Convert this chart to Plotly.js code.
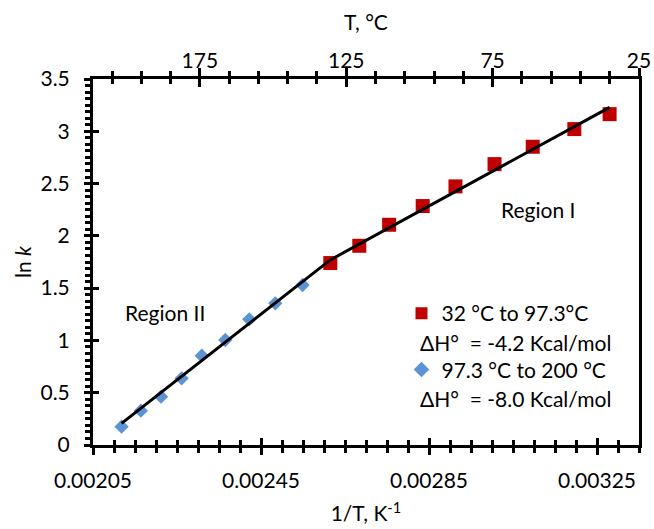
<!DOCTYPE html>
<html>
<head>
<meta charset="utf-8">
<script src="https://cdn.plot.ly/plotly-3.0.1.min.js"></script>
<style>html,body{margin:0;padding:0;background:#fff;}#chart{width:654px;height:529px;}</style>
</head>
<body>
<div id="chart"></div>
<script>
// Region I (32 °C to 97.3 °C) – red squares
const regionI_invT = [0.002615, 0.002684, 0.002755, 0.002835, 0.002913, 0.003006, 0.003097, 0.003196, 0.003280];
const regionI_lnk  = [1.740, 1.905, 2.106, 2.285, 2.473, 2.686, 2.852, 3.021, 3.164];
// Region II (97.3 °C to 200 °C) – blue diamonds
const regionII_invT = [0.002118, 0.002164, 0.002212, 0.002261, 0.002309, 0.002365, 0.002422, 0.002484, 0.002549];
const regionII_lnk  = [0.175, 0.328, 0.462, 0.638, 0.854, 1.004, 1.202, 1.355, 1.530];
// fitted line (two linear segments)
const fit_invT = [0.002118, 0.002615, 0.003280];
const fit_lnk  = [0.207, 1.770, 3.228];

const seriesNames = ['32 °C to 97.3°C', '97.3 °C to 200 °C'];
const dHLabels = ['ΔH°  = -4.2 Kcal/mol', 'ΔH°  = -8.0 Kcal/mol'];
const regionLabels = ['Region I', 'Region II'];

const FONT = 'Lato, "Open Sans", "DejaVu Sans", sans-serif';
const BLACK = '#000000';

const helper = (xa, ya) => ({x: [], y: [], xaxis: xa, yaxis: ya, type: 'scatter', mode: 'markers',
                             showlegend: false, hoverinfo: 'skip'});

const traces = [
  {x: regionI_invT, y: regionI_lnk, type: 'scatter', mode: 'markers', name: seriesNames[0],
   legendgroup: 'a', marker: {symbol: 'square', size: 14, color: '#C00000', line: {width: 0}}},
  {x: regionII_invT, y: regionII_lnk, type: 'scatter', mode: 'markers', name: seriesNames[1],
   legendgroup: 'b', marker: {symbol: 'diamond', size: 11, color: '#5B93D3', line: {width: 0}}},
  {x: fit_invT, y: fit_lnk, type: 'scatter', mode: 'lines',
   line: {color: BLACK, width: 3}, showlegend: false, hoverinfo: 'skip'},
  // empty helper traces so the secondary (tick-only) axes are drawn
  helper('x2', 'y'), helper('x3', 'y'), helper('x4', 'y'), helper('x5', 'y'), helper('x', 'y2')
];

const tickFont = {family: FONT, size: 21, color: BLACK};
const titleFont = {family: FONT, size: 21, color: BLACK};
const xr = [0.00205, 0.00335];
const tr = [211.5, 25];
const yr = [0, 3.5];
const plain = {showgrid: false, zeroline: false, showline: false, showticklabels: false};

const layout = {
  width: 654, height: 529,
  margin: {l: 93, r: 15, t: 79, b: 84},
  paper_bgcolor: '#fff', plot_bgcolor: '#fff',
  font: {family: FONT, size: 18, color: BLACK},
  showlegend: true,
  legend: {x: 0.565, y: 0.415, xanchor: 'left', yanchor: 'top', bgcolor: 'rgba(0,0,0,0)',
           font: {family: FONT, size: 21, color: BLACK}, traceorder: 'grouped', tracegroupgap: 26,
           itemsizing: 'constant'},
  // bottom axis: 1/T
  xaxis: {range: xr, tick0: 0.00205, dtick: 0.0004, tickformat: '.5f', showgrid: false, zeroline: false,
          showline: true, linecolor: BLACK, linewidth: 3, ticks: 'outside', ticklen: 7, tickwidth: 3, tickcolor: BLACK,
          minor: {tick0: 0.00205, dtick: 0.00005, ticks: 'outside', ticklen: 5, tickwidth: 3, tickcolor: BLACK, showgrid: false},
          tickfont: tickFont, ticklabelstandoff: 8,
          title: {text: '1/T, K<sup>-1</sup>', font: titleFont, standoff: 16}},
  xaxis3: Object.assign({overlaying: 'x', anchor: 'y', side: 'bottom', range: xr, tick0: 0.00205, dtick: 0.0004,
           ticks: 'inside', ticklen: 7, tickwidth: 3, tickcolor: BLACK,
           minor: {tick0: 0.00205, dtick: 0.00005, ticks: 'inside', ticklen: 5, tickwidth: 3, tickcolor: BLACK, showgrid: false}}, plain),
  // top axis: T, °C  (labels + title; line and ticks come from xaxis5 / xaxis4)
  xaxis2: {overlaying: 'x', anchor: 'y', side: 'top', range: tr, tick0: 25, dtick: 50,
           showgrid: false, zeroline: false, showline: false, ticks: '',
           tickfont: tickFont, ticklabelstandoff: 6,
           title: {text: 'T, °C', font: titleFont, standoff: 10}},
  xaxis5: {overlaying: 'x', anchor: 'y', side: 'top', range: tr, tick0: 25, dtick: 50,
           showgrid: false, zeroline: false, showticklabels: false,
           showline: true, linecolor: BLACK, linewidth: 3, ticks: 'outside', ticklen: 8, tickwidth: 3, tickcolor: BLACK,
           minor: {tick0: 25, dtick: 10, ticks: 'outside', ticklen: 5, tickwidth: 3, tickcolor: BLACK, showgrid: false}},
  xaxis4: Object.assign({overlaying: 'x', anchor: 'y', side: 'top', range: tr, tick0: 25, dtick: 50,
           ticks: 'inside', ticklen: 8, tickwidth: 3, tickcolor: BLACK,
           minor: {tick0: 25, dtick: 10, ticks: 'inside', ticklen: 5, tickwidth: 3, tickcolor: BLACK, showgrid: false}}, plain),
  // left axis: ln k
  yaxis: {range: yr, dtick: 0.5, showgrid: false, zeroline: false, showline: true, mirror: true,
          linecolor: BLACK, linewidth: 3, ticks: 'outside', ticklen: 6, tickwidth: 3, tickcolor: BLACK,
          minor: {tick0: 0, dtick: 0.0625, ticks: 'outside', ticklen: 5, tickwidth: 3, tickcolor: BLACK, showgrid: false},
          tickfont: tickFont, ticklabelstandoff: 10,
          title: {text: 'ln <i>k</i>', font: titleFont, standoff: 4}},
  yaxis2: Object.assign({overlaying: 'y', anchor: 'x', side: 'left', range: yr, dtick: 0.5,
           ticks: 'inside', ticklen: 6, tickwidth: 3, tickcolor: BLACK}, plain),
  annotations: [
    {xref: 'paper', yref: 'paper', x: 0.5952, y: 0.2814, xanchor: 'left', yanchor: 'middle', showarrow: false,
     text: dHLabels[0], font: {family: FONT, size: 21, color: BLACK}},
    {xref: 'paper', yref: 'paper', x: 0.5952, y: 0.1284, xanchor: 'left', yanchor: 'middle', showarrow: false,
     text: dHLabels[1], font: {family: FONT, size: 21, color: BLACK}},
    {xref: 'paper', yref: 'paper', x: 0.815, y: 0.6448, xanchor: 'center', yanchor: 'middle', showarrow: false,
     text: regionLabels[0], font: {family: FONT, size: 21, color: BLACK}},
    {xref: 'paper', yref: 'paper', x: 0.1319, y: 0.3607, xanchor: 'center', yanchor: 'middle', showarrow: false,
     text: regionLabels[1], font: {family: FONT, size: 21, color: BLACK}}
  ]
};

Plotly.newPlot('chart', traces, layout, {displayModeBar: false, staticPlot: true})
  .catch(function (e) { console.error(e); });
</script>
</body>
</html>
